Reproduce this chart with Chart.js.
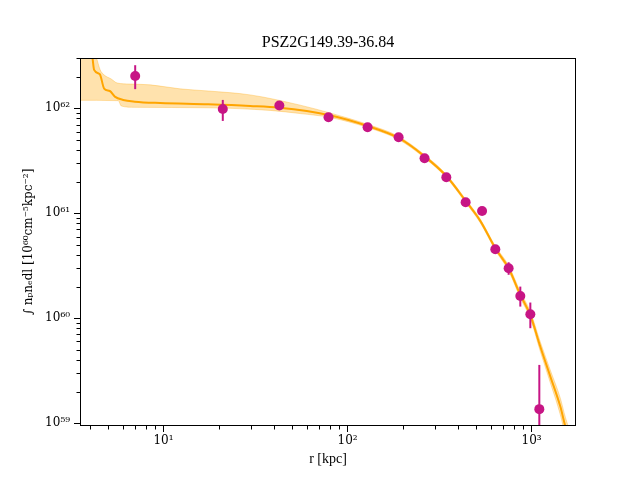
<!DOCTYPE html>
<html>
<head>
<meta charset="utf-8">
<script src="https://cdn.jsdelivr.net/npm/chart.js@4.4.0/dist/chart.umd.min.js"></script>
<style>
  html, body { margin: 0; padding: 0; background: #fff; }
</style>
</head>
<body>
<canvas id="chart" width="640" height="480"></canvas>
<script>
const titleText = 'PSZ2G149.39-36.84';
const xLabel = 'r [kpc]';
const yLabel = '∫ nₚnₑdl [10⁶⁰cm⁻⁵kpc⁻²]';

// tick labels
const xTickValues = [10, 100, 1000];
const xTickLabels = ['10¹', '10²', '10³'];
const yTickValues = [1e59, 1e60, 1e61, 1e62];
const yTickLabels = ['10⁵⁹', '10⁶⁰', '10⁶¹', '10⁶²'];

// measured profile (kpc, value, error bar ends)
const radius   = [7.02, 21.0, 42.6, 78.8, 128.5, 189.4, 262, 344, 438, 538, 635, 750, 868, 984, 1101];
const emission = [2.03e62, 9.85e61, 1.06e62, 8.21e61, 6.59e61, 5.30e61, 3.34e61, 2.20e61, 1.27e61, 1.05e61, 4.54e60, 2.99e60, 1.63e60, 1.09e60, 1.36e59];
const errHigh  = [2.57e62, 1.20e62, 1.10e62, 8.5e61, 6.8e61, 5.5e61, 3.45e61, 2.28e61, 1.32e61, 1.09e61, 4.75e60, 3.41e60, 2.00e60, 1.41e60, 3.59e59];
const errLow   = [1.52e62, 7.57e61, 1.02e62, 7.9e61, 6.4e61, 5.1e61, 3.23e61, 2.12e61, 1.22e61, 1.01e61, 4.33e60, 2.59e60, 1.29e60, 8.03e59, 1e58];

// model median
const fitR   = [3.95, 4.10, 4.20, 4.51, 4.76, 5.11, 5.44, 6.04, 6.99, 9.6, 17.5, 29.6, 42.6, 78.8, 128.5, 189.4, 262, 344, 438, 526, 635, 750, 868, 984, 1114, 1264, 1432, 1525, 1664];
const fitVal = [3.59e62, 3.15e62, 2.32e62, 2.11e62, 1.54e62, 1.46e62, 1.29e62, 1.20e62, 1.156e62, 1.122e62, 1.09e62, 1.05e62, 1.01e62, 8.63e61, 6.78e61, 5.21e61, 3.48e61, 2.26e61, 1.31e61, 8.45e60, 4.64e60, 2.99e60, 1.67e60, 1.07e60, 5.37e59, 2.78e59, 1.44e59, 9.29e58, 5.57e58];

// model envelope
const bandHiR = [3.31, 4.30, 4.53, 4.77, 5.20, 5.60, 6.59, 8.47, 12.3, 17.5, 29.6, 55.3, 80.5, 128.5, 189.4, 262, 344, 438, 526, 635, 750, 868, 984, 1114, 1264, 1432, 1525, 1664];
const bandHi  = [5.57e62, 3.1e62, 2.32e62, 2.07e62, 1.90e62, 1.74e62, 1.70e62, 1.67e62, 1.53e62, 1.46e62, 1.34e62, 1.07e62, 9.0e61, 7.02e61, 5.39e61, 3.60e61, 2.34e61, 1.36e61, 8.80e60, 4.86e60, 3.17e60, 1.79e60, 1.16e60, 5.96e59, 3.19e59, 1.73e59, 1.14e59, 7.18e58];
const bandLoR = [3.31, 5.68, 5.90, 7.0, 17.5, 38, 55.3, 80.5, 128.5, 189.4, 262, 344, 438, 526, 635, 750, 868, 984, 1114, 1264, 1432, 1525, 1664];
const bandLo  = [1.19e62, 1.18e62, 1.05e62, 1.02e62, 1.01e62, 9.53e61, 8.9e61, 8.17e61, 6.55e61, 5.03e61, 3.36e61, 2.18e61, 1.26e61, 8.10e60, 4.44e60, 2.82e60, 1.56e60, 9.91e59, 4.84e59, 2.42e59, 1.20e59, 7.55e58, 4.33e58];

const pts = (xs, ys) => xs.map((x, i) => ({x: x, y: ys[i]}));

Chart.defaults.font.family = "'Liberation Serif', 'DejaVu Serif', serif";
Chart.defaults.color = '#000';
const tickFont = { family: "'DejaVu Serif', serif", size: 12 };

const errorBars = {
  id: 'errorBars',
  afterDatasetsDraw(chart) {
    const {ctx, chartArea: a, scales: {x, y}} = chart;
    ctx.save();
    ctx.beginPath();
    ctx.rect(a.left, a.top, a.right - a.left, a.bottom - a.top);
    ctx.clip();
    ctx.strokeStyle = '#C71585';
    ctx.lineWidth = 2;
    radius.forEach((r, i) => {
      const px = x.getPixelForValue(r);
      ctx.beginPath();
      ctx.moveTo(px, y.getPixelForValue(errHigh[i]));
      ctx.lineTo(px, y.getPixelForValue(errLow[i]));
      ctx.stroke();
    });
    ctx.restore();
  }
};

const frame = {
  id: 'frame',
  afterDraw(chart) {
    const {ctx, chartArea: a, scales: {x, y}} = chart;
    ctx.save();
    ctx.strokeStyle = '#000';
    ctx.lineWidth = 1;
    ctx.strokeRect(a.left + 0.5, a.top + 0.5, a.right - a.left - 1, a.bottom - a.top - 1);
    // minor ticks
    ctx.beginPath();
    for (let d = 0; d <= 3; d++) {
      for (let m = 2; m <= 9; m++) {
        const v = m * Math.pow(10, d);
        if (v < x.min || v > x.max) continue;
        const px = Math.round(x.getPixelForValue(v)) + 0.5;
        ctx.moveTo(px, a.bottom);
        ctx.lineTo(px, a.bottom + 3.5);
      }
    }
    for (let d = 58; d <= 62; d++) {
      for (let m = 2; m <= 9; m++) {
        const v = m * Math.pow(10, d);
        if (v < y.min || v > y.max) continue;
        const py = Math.round(y.getPixelForValue(v)) + 0.5;
        ctx.moveTo(a.left, py);
        ctx.lineTo(a.left - 3.5, py);
      }
    }
    ctx.stroke();
    ctx.restore();
  }
};

new Chart(document.getElementById('chart'), {
  type: 'line',
  data: {
    datasets: [
      {
        data: pts(radius, emission),
        xAxisID: 'x', yAxisID: 'y',
        showLine: false,
        pointRadius: 5,
        pointBackgroundColor: '#C71585',
        pointBorderColor: '#C71585',
        pointBorderWidth: 0,
        order: 0
      },
      {
        data: pts(fitR, fitVal),
        xAxisID: 'x', yAxisID: 'y',
        borderColor: '#FFA500',
        borderWidth: 2,
        pointRadius: 0,
        cubicInterpolationMode: 'monotone',
        fill: false,
        order: 1
      },
      {
        data: pts(bandHiR, bandHi),
        xAxisID: 'x', yAxisID: 'y',
        borderColor: 'rgba(255,165,0,0.3)',
        borderWidth: 1,
        backgroundColor: 'rgba(255,165,0,0.32)',
        pointRadius: 0,
        cubicInterpolationMode: 'monotone',
        fill: '+1',
        order: 2
      },
      {
        data: pts(bandLoR, bandLo),
        xAxisID: 'x', yAxisID: 'y',
        borderColor: 'rgba(255,165,0,0.3)',
        borderWidth: 1,
        pointRadius: 0,
        cubicInterpolationMode: 'monotone',
        fill: false,
        order: 3
      }
    ]
  },
  options: {
    responsive: false,
    animation: false,
    devicePixelRatio: 1,
    layout: { padding: { left: 0, right: 64, top: 0, bottom: 0 } },
    plugins: {
      legend: { display: false },
      tooltip: { enabled: false }
    },
    scales: {
      x: {
        type: 'logarithmic',
        position: 'bottom',
        min: 3.52,
        max: 1742,
        afterBuildTicks: s => { s.ticks = xTickValues.map(v => ({ value: v })); },
        afterFit: s => { s.height = 54; },
        ticks: {
          autoSkip: false,
          maxRotation: 0,
          padding: 2,
          font: tickFont,
          callback: v => xTickLabels[xTickValues.indexOf(v)]
        },
        grid: { drawOnChartArea: false, tickLength: 6, color: '#000' },
        border: { display: false },
        title: { display: true, text: xLabel, font: { size: 14 }, padding: { bottom: 12 } }
      },
      y: {
        type: 'logarithmic',
        position: 'left',
        min: 9.4e58,
        max: 3.01e62,
        afterBuildTicks: s => { s.ticks = yTickValues.map(v => ({ value: v })); },
        afterFit: s => { s.width = 80; },
        ticks: {
          autoSkip: false,
          padding: 4,
          font: tickFont,
          callback: v => yTickLabels[yTickValues.indexOf(v)]
        },
        grid: { drawOnChartArea: false, tickLength: 6, color: '#000' },
        border: { display: false },
        title: { display: true, text: yLabel, font: { family: "'DejaVu Serif', serif", size: 12 }, padding: { top: 22 } }
      },
      top: {
        type: 'linear',
        axis: 'x',
        position: 'top',
        afterFit: s => { s.height = 58; },
        ticks: { display: false },
        grid: { display: false },
        border: { display: false },
        title: { display: true, text: titleText, font: { size: 16 }, padding: { top: 33 } }
      }
    }
  },
  plugins: [errorBars, frame]
});
</script>
</body>
</html>
